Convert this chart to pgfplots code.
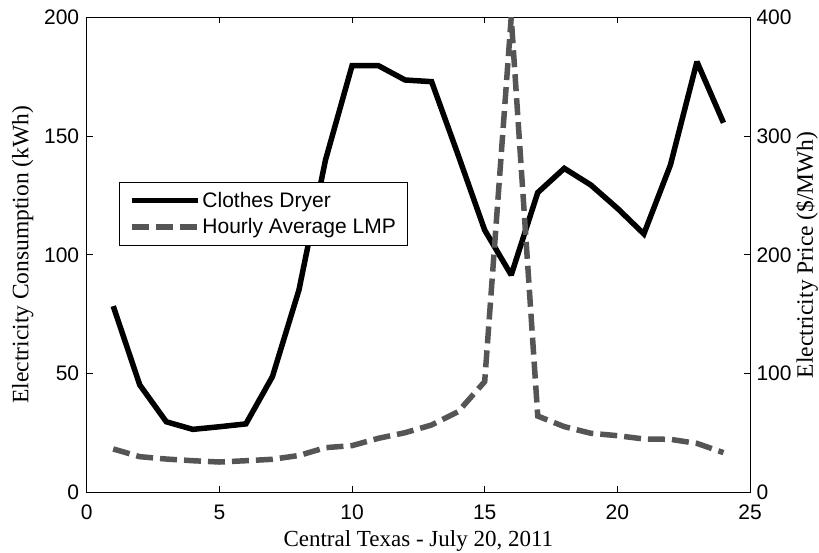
\documentclass[border=0pt]{standalone}
\usepackage{pgfplots}
\pgfplotsset{compat=1.18}
\usepackage{fontspec}
\setmainfont{Liberation Serif}
\setsansfont{Liberation Sans}
\definecolor{lmpgray}{RGB}{85,85,85}
\begin{document}
\begin{tikzpicture}
\useasboundingbox (-86.7pt,-59.7pt) rectangle (732.3pt,492.3pt);
\pgfplotsset{
 every axis/.append style={
  scale only axis, width=663.3pt, height=475pt,
  xmin=0, xmax=25,
  tick align=inside, major tick length=6pt,
  tick label style={font=\fontsize{21}{25}\sffamily},
  xticklabel style={yshift=-9pt},
  /pgf/number format/assume math mode=true,
  axis line style={line width=1pt},
  every tick/.style={black, line width=0.8pt},
 }
}
\begin{axis}[
 ymin=0, ymax=200, ytick={0,50,...,200}, xtick={0,5,...,25},
 ytick pos=left, xtick pos=both, xticklabel pos=lower,
 yticklabel style={xshift=-4pt},
 xlabel={Central Texas - July 20, 2011},
 ylabel={Electricity Consumption (kWh)},
 every axis x label/.style={at={(rel axis cs:0.5,0)}, yshift=-54pt, anchor=base, font=\fontsize{23}{27}\rmfamily},
 every axis y label/.style={at={(rel axis cs:0,0.5)}, xshift=-64pt, rotate=90, anchor=center, font=\fontsize{23.5}{28}\rmfamily},
]
\addplot[black, line width=5.5pt, line join=miter, miter limit=2] coordinates {
(1,78.4) (2,45.2) (3,29.7) (4,26.5) (5,27.6) (6,28.8) (7,48.7) (8,85.2)
(9,139.9) (10,179.6) (11,179.6) (12,173.6) (13,172.9) (14,142) (15,110.4)
(16,91.5) (17,126.2) (18,136.4) (19,129.4) (20,119.6) (21,108.8) (22,137.8)
(23,181.3) (24,155.6)};
\end{axis}
\begin{axis}[
 ymin=0, ymax=400, ytick={0,100,...,400},
 axis x line=none, axis y line*=right,
 yticklabel style={xshift=3pt},
 ylabel={Electricity Price (\$/MWh)},
 every axis y label/.style={at={(rel axis cs:1,0.5)}, xshift=57pt, rotate=90, anchor=center, font=\fontsize{23.5}{28}\rmfamily},
 legend style={at={(0.048,0.654)}, anchor=north west, draw=black, line width=0.8pt,
   fill=white, font=\fontsize{21}{25}\sffamily, cells={anchor=west},
   inner xsep=10pt, inner ysep=8pt, row sep=6pt},
 legend image code/.code={\draw[#1] (0pt,0pt) -- (66pt,0pt);},
]
\addlegendimage{black, line width=5.5pt}
\addlegendentry{Clothes Dryer}
\addplot[lmpgray, line width=5.5pt, dash pattern=on 17pt off 7pt] coordinates {
(1,36.5) (2,30) (3,28) (4,26.6) (5,25.5) (6,26.6) (7,27.8) (8,31)
(9,37.6) (10,39.3) (11,45.5) (12,50.2) (13,56.7) (14,67.9) (15,93.2)
(16,400) (17,64.2) (18,55.3) (19,49.7) (20,47.7) (21,44.9) (22,44.6)
(23,41.2) (24,33.4)};
\addlegendentry{Hourly Average LMP}
\end{axis}
\end{tikzpicture}
\end{document}
